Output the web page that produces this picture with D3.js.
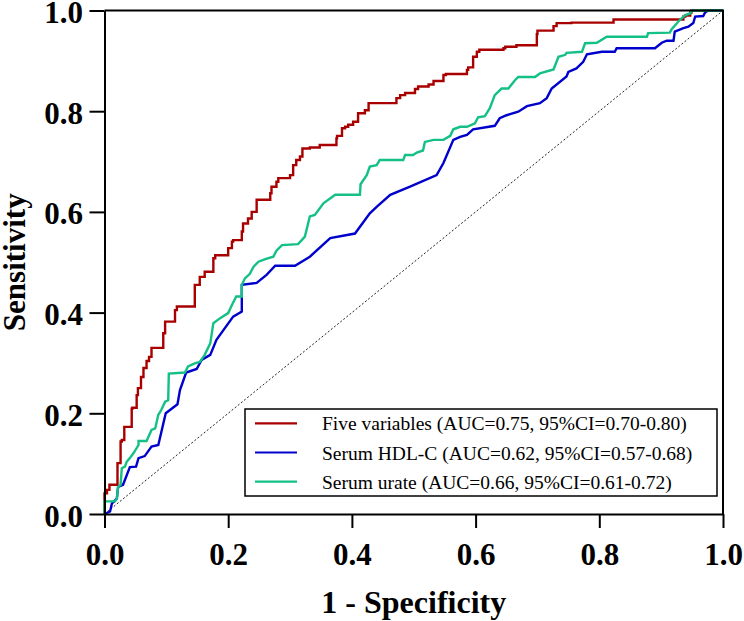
<!DOCTYPE html>
<html>
<head>
<meta charset="utf-8">
<script src="https://cdn.jsdelivr.net/npm/d3@7"></script>
<style>
  html, body { margin: 0; padding: 0; background: #fff; }
  svg { display: block; }
</style>
</head>
<body>
<svg id="chart" width="744" height="621"></svg>
<script>
// ---- Data ----
const seriesNames = [
  "Five variables (AUC=0.75, 95%CI=0.70-0.80)",
  "Serum HDL-C (AUC=0.62, 95%CI=0.57-0.68)",
  "Serum urate (AUC=0.66, 95%CI=0.61-0.72)"
];
const seriesColors = ["#a80000", "#0000cc", "#14c084"];
const tickValues = [0, 0.2, 0.4, 0.6, 0.8, 1.0];
const xTitle = "1 - Specificity";
const yTitle = "Sensitivity";

// [1 - specificity, sensitivity]
const fiveVariables = [
  [0,0],[0,0.034],[0.004,0.041],[0.008,0.048],[0.013,0.058],[0.021,0.058],[0.021,0.097],
  [0.026,0.101],[0.028,0.144],[0.032,0.147],[0.032,0.167],[0.036,0.173],[0.044,0.173],
  [0.045,0.209],[0.052,0.211],[0.054,0.236],[0.059,0.250],[0.063,0.272],[0.068,0.290],
  [0.072,0.304],[0.076,0.312],[0.082,0.330],[0.095,0.330],[0.098,0.359],[0.101,0.382],
  [0.114,0.382],[0.117,0.405],[0.125,0.412],[0.146,0.412],[0.146,0.435],[0.154,0.455],
  [0.162,0.471],[0.168,0.481],[0.176,0.481],[0.179,0.508],[0.184,0.514],[0.200,0.514],
  [0.206,0.528],[0.208,0.541],[0.222,0.544],[0.224,0.561],[0.232,0.577],[0.238,0.587],
  [0.246,0.600],[0.254,0.624],[0.268,0.624],[0.270,0.637],[0.278,0.650],[0.281,0.660],
  [0.286,0.667],[0.300,0.667],[0.305,0.673],[0.310,0.693],[0.316,0.703],[0.320,0.710],
  [0.332,0.726],[0.348,0.728],[0.351,0.733],[0.375,0.733],[0.376,0.746],[0.384,0.751],
  [0.389,0.766],[0.394,0.769],[0.402,0.773],[0.410,0.779],[0.421,0.796],[0.427,0.802],
  [0.443,0.816],[0.472,0.816],[0.478,0.826],[0.486,0.832],[0.502,0.836],[0.507,0.844],
  [0.524,0.849],[0.532,0.853],[0.548,0.860],[0.552,0.872],[0.586,0.874],[0.588,0.882],
  [0.596,0.887],[0.602,0.908],[0.606,0.918],[0.645,0.922],[0.648,0.925],[0.666,0.928],
  [0.667,0.931],[0.699,0.931],[0.700,0.953],[0.726,0.960],[0.731,0.969],[0.755,0.975],
  [0.823,0.976],[0.823,0.982],[0.936,0.982],[0.939,0.988],[0.947,0.990],[0.949,0.996],
  [0.955,1.0],[1,1]
];
const serumHDLC = [
  [0,0],[0.009,0.005],[0.012,0.021],[0.015,0.024],[0.020,0.031],[0.022,0.054],[0.030,0.058],
  [0.041,0.093],[0.051,0.094],[0.055,0.111],[0.065,0.115],[0.076,0.134],[0.087,0.137],
  [0.099,0.200],[0.118,0.218],[0.122,0.246],[0.132,0.281],[0.149,0.288],[0.157,0.306],
  [0.171,0.316],[0.181,0.346],[0.208,0.392],[0.222,0.402],[0.222,0.455],[0.246,0.459],
  [0.262,0.475],[0.276,0.493],[0.308,0.493],[0.332,0.511],[0.365,0.548],[0.405,0.557],
  [0.429,0.597],[0.440,0.610],[0.462,0.634],[0.494,0.650],[0.537,0.673],[0.548,0.697],
  [0.564,0.743],[0.575,0.749],[0.586,0.753],[0.596,0.764],[0.631,0.771],[0.639,0.786],
  [0.650,0.792],[0.669,0.799],[0.683,0.810],[0.704,0.816],[0.715,0.826],[0.723,0.845],
  [0.747,0.869],[0.750,0.878],[0.763,0.885],[0.774,0.898],[0.780,0.913],[0.804,0.918],
  [0.825,0.918],[0.828,0.925],[0.890,0.925],[0.901,0.936],[0.909,0.940],[0.920,0.940],
  [0.922,0.958],[0.936,0.965],[0.944,0.968],[0.952,0.975],[0.955,0.988],[0.968,0.989],
  [0.971,0.996],[0.976,1.0],[1,1]
];
const serumUrate = [
  [0,0],[0,0.025],[0.017,0.025],[0.020,0.031],[0.022,0.054],[0.026,0.058],[0.028,0.091],
  [0.033,0.094],[0.036,0.104],[0.041,0.111],[0.047,0.121],[0.055,0.137],[0.055,0.145],
  [0.068,0.145],[0.076,0.167],[0.082,0.170],[0.087,0.197],[0.092,0.207],[0.098,0.223],
  [0.103,0.226],[0.104,0.279],[0.130,0.281],[0.135,0.293],[0.146,0.299],[0.154,0.302],
  [0.162,0.316],[0.171,0.339],[0.176,0.379],[0.187,0.389],[0.200,0.399],[0.206,0.415],
  [0.213,0.432],[0.222,0.432],[0.222,0.455],[0.227,0.468],[0.235,0.477],[0.241,0.491],
  [0.249,0.501],[0.260,0.506],[0.273,0.511],[0.278,0.523],[0.287,0.534],[0.313,0.536],
  [0.324,0.551],[0.332,0.591],[0.340,0.594],[0.354,0.617],[0.373,0.634],[0.413,0.634],
  [0.414,0.655],[0.424,0.673],[0.429,0.690],[0.440,0.693],[0.445,0.703],[0.483,0.703],
  [0.486,0.713],[0.499,0.713],[0.505,0.718],[0.515,0.722],[0.518,0.739],[0.532,0.743],
  [0.548,0.743],[0.559,0.751],[0.564,0.764],[0.575,0.769],[0.586,0.769],[0.599,0.776],
  [0.604,0.788],[0.615,0.790],[0.623,0.806],[0.631,0.832],[0.642,0.845],[0.653,0.845],
  [0.664,0.862],[0.669,0.868],[0.696,0.868],[0.704,0.875],[0.726,0.883],[0.734,0.908],
  [0.745,0.912],[0.747,0.916],[0.772,0.918],[0.777,0.935],[0.796,0.936],[0.812,0.948],
  [0.877,0.948],[0.879,0.955],[0.914,0.956],[0.917,0.963],[0.930,0.981],[0.939,0.991],
  [0.947,0.994],[0.949,1.0],[1,1]
];
const diagonal = [[0,0],[1,1]];

// ---- Layout ----
const svg = d3.select("#chart");
const plotLeft = 104.5, plotRight = 723, plotTop = 10.5, plotBottom = 514;
const x = d3.scaleLinear().domain([0, 1]).range([plotLeft, plotRight]);
const y = d3.scaleLinear().domain([0, 1]).range([plotBottom, plotTop]);

const serif = "'Liberation Serif', 'Times New Roman', Times, serif";

// diagonal reference line
svg.append("path")
  .datum(diagonal)
  .attr("d", d3.line().x(d => x(d[0])).y(d => y(d[1])))
  .attr("fill", "none")
  .attr("stroke", "#222")
  .attr("stroke-width", 1)
  .attr("stroke-dasharray", "2,2");

// curves
const curves = [
  {data: fiveVariables, color: seriesColors[0], curve: d3.curveStepBefore},
  {data: serumHDLC, color: seriesColors[1], curve: d3.curveLinear},
  {data: serumUrate, color: seriesColors[2], curve: d3.curveLinear}
];
curves.forEach(c => {
  svg.append("path")
    .datum(c.data)
    .attr("d", d3.line().x(d => x(d[0])).y(d => y(d[1])).curve(c.curve))
    .attr("fill", "none")
    .attr("stroke", c.color)
    .attr("stroke-width", 2.4)
    .attr("stroke-linejoin", "miter");
});

// frame (top & right)
svg.append("path")
  .attr("d", `M${plotLeft},${plotTop}H${plotRight}V${plotBottom}`)
  .attr("fill", "none")
  .attr("stroke", "#000")
  .attr("stroke-width", 2);

// axes
const fmt = d3.format(".1f");
const xAxis = svg.append("g")
  .attr("transform", `translate(0,${plotBottom})`)
  .call(d3.axisBottom(x).tickValues(tickValues).tickFormat(fmt).tickSize(14).tickSizeOuter(0));
const yAxis = svg.append("g")
  .attr("transform", `translate(${plotLeft},0)`)
  .call(d3.axisLeft(y).tickValues(tickValues).tickFormat(fmt).tickSize(15).tickSizeOuter(0));

[xAxis, yAxis].forEach(g => {
  g.select(".domain").attr("stroke", "#000").attr("stroke-width", 2);
  g.selectAll(".tick line").attr("stroke", "#000").attr("stroke-width", 2);
  g.selectAll(".tick text")
    .attr("fill", "#000")
    .style("font-family", serif)
    .style("font-weight", "bold")
    .style("font-size", "31px");
});
xAxis.selectAll(".tick text").attr("y", 51).attr("dy", null);
yAxis.selectAll(".tick text").attr("x", -21.5).attr("dy", "0.39em");

// axis titles
svg.append("text")
  .attr("x", (plotLeft + plotRight) / 2)
  .attr("y", 613)
  .attr("text-anchor", "middle")
  .style("font-family", serif)
  .style("font-weight", "bold")
  .style("font-size", "32px")
  .text(xTitle);

svg.append("text")
  .attr("transform", `translate(25,${(plotTop + plotBottom) / 2}) rotate(-90)`)
  .attr("text-anchor", "middle")
  .style("font-family", serif)
  .style("font-weight", "bold")
  .style("font-size", "31px")
  .text(yTitle);

// legend
const legend = svg.append("g");
legend.append("rect")
  .attr("x", 245).attr("y", 409)
  .attr("width", 472).attr("height", 87)
  .attr("fill", "#fff")
  .attr("stroke", "#000")
  .attr("stroke-width", 1.5);
seriesNames.forEach((name, i) => {
  const cy = 423.3 + i * 29.2;
  legend.append("line")
    .attr("x1", 255).attr("x2", 297)
    .attr("y1", cy).attr("y2", cy)
    .attr("stroke", seriesColors[i])
    .attr("stroke-width", 2.2);
  legend.append("text")
    .attr("x", 322).attr("y", cy + 7)
    .style("font-family", serif)
    .style("font-size", "19.5px")
    .attr("fill", "#000")
    .text(name);
});
</script>
</body>
</html>
